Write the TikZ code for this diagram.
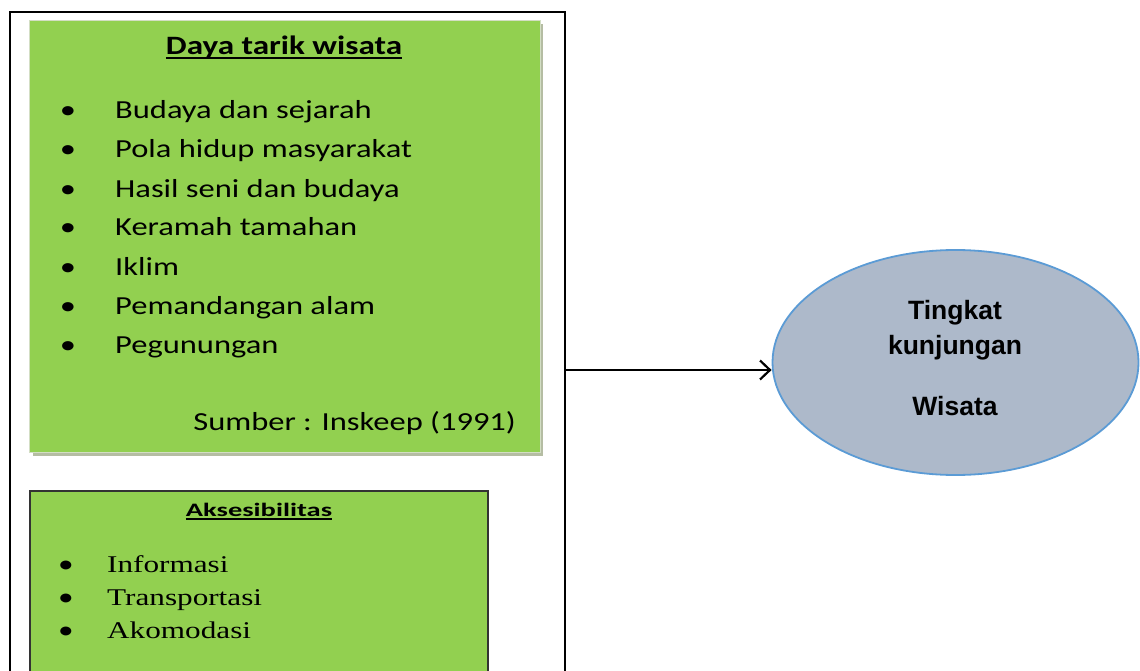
\documentclass[tikz,border=0pt]{standalone}
\usepackage{fontspec}
\usetikzlibrary{shapes.geometric,arrows.meta}
\newfontfamily\isifont[FakeStretch=1.25]{Carlito}
\newfontfamily\aksfont[FakeStretch=1.5]{Carlito}
\newfontfamily\daftarfont[FakeStretch=1.3]{Liberation Serif}
\newfontfamily\elipsfont{Liberation Sans}
\definecolor{hijau}{HTML}{92D050}
\definecolor{bayang}{HTML}{B5BDA3}
\definecolor{tepihijau}{HTML}{D3DEC4}
\definecolor{abu}{HTML}{ADB9CA}
\definecolor{biru}{HTML}{5B9BD5}
\newcommand\garisbawah[2]{\setbox0\hbox{#2}\rlap{\vrule height -#1 depth \dimexpr#1+1.8pt\relax width \wd0}\box0}
\tikzset{
  butir/.style={anchor=base west, inner sep=0pt, font=\isifont\fontsize{26}{30}\selectfont},
  titik/.style={anchor=base, inner sep=0pt, font=\isifont\fontsize{26}{30}\selectfont},
  butirb/.style={anchor=base west, inner sep=0pt, font=\daftarfont\fontsize{24}{28}\selectfont},
  titikb/.style={anchor=base, inner sep=0pt, font=\isifont\fontsize{25}{28}\selectfont},
  tulis/.style={anchor=base, inner sep=0pt, font=\elipsfont\bfseries\fontsize{26.5}{30}\selectfont},
}
\begin{document}
\begin{tikzpicture}[x=1pt, y=-1pt, line join=miter]
      \useasboundingbox (0,0) rectangle (1140,671);
      \node[draw, line width=2pt, minimum width=555pt, minimum height=720pt, anchor=north west, inner sep=0pt] (kerangka) at (9,11) {};
      \fill[bayang] (33,24) rectangle (543,456);
      \node[fill=hijau, draw=tepihijau, line width=1pt, minimum width=511pt, minimum height=432pt, anchor=north west, inner sep=0pt] (daya) at (29,20) {};
      \node[fill=hijau, draw=black!80, line width=1.8pt, minimum width=458pt, minimum height=220pt, anchor=north west, inner sep=0pt] (akses) at (29,490) {};
      \node[anchor=base, inner sep=0pt, font=\isifont\bfseries\fontsize{26.5}{30}\selectfont] (judul) at (284,55) {\garisbawah{2.5pt}{Daya tarik wisata}};
      \foreach \teks [count=\i from 0] in {Budaya dan sejarah, Pola hidup masyarakat, Hasil seni dan budaya, Keramah tamahan, Iklim, Pemandangan alam, Pegunungan} {
        \node[titik] (t\i) at (68,119+39*\i) {\textbullet};
        \node[butir] (b\i) at (115,119+39*\i) {\teks};
      }
      \node[anchor=base east, inner sep=0pt, font=\isifont\fontsize{26}{30}\selectfont] (sumber) at (516,430) {Sumber : Inskeep (1991)};
      \node[anchor=base, inner sep=0pt, font=\aksfont\bfseries\fontsize{19}{23}\selectfont] (judulb) at (259,516) {\garisbawah{2pt}{Aksesibilitas}};
      \foreach \teks [count=\i from 0] in {Informasi, Transportasi, Akomodasi} {
        \node[titikb] (u\i) at (66,572+33.3*\i) {\textbullet};
        \node[butirb] (c\i) at (107,572+33.3*\i) {\teks};
      }
      \node[ellipse, fill=abu, draw=biru, line width=1.8pt, minimum width=366pt, minimum height=225pt, inner sep=0pt] (tingkat) at (955.5,362.5) {};
      \node[tulis] (w1) at (955,319) {Tingkat};
      \node[tulis] (w2) at (955,354) {kunjungan};
      \node[tulis] (w3) at (955,415) {Wisata};
      \coordinate (asal) at (kerangka.east |- 0,370);
      \draw[line width=2.2pt, -{Straight Barb[length=10pt, width=19pt, line width=2.2pt]}] (asal) -- (asal -| tingkat.west);
    \end{tikzpicture}
\end{document}
